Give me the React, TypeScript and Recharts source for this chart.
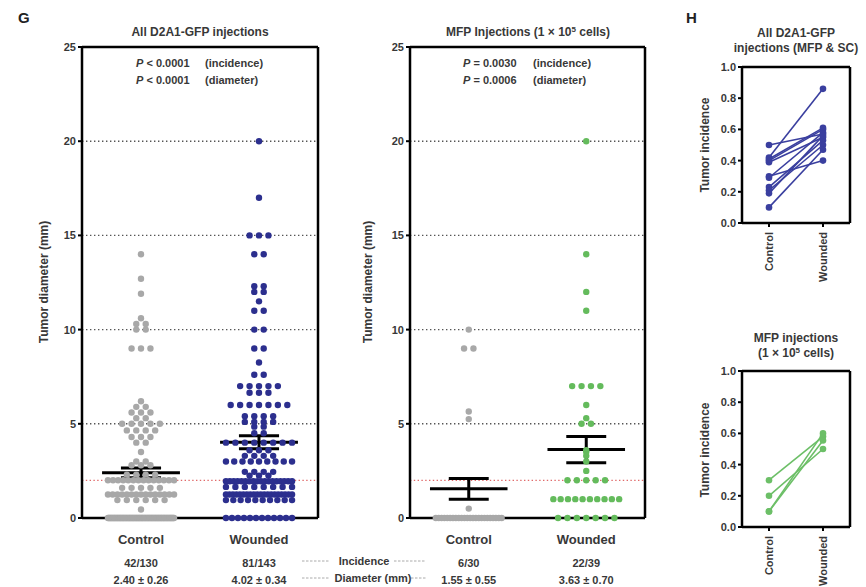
import React from 'react';
import { ScatterChart, Scatter, XAxis, YAxis, ReferenceLine } from 'recharts';

const FONT = '"Liberation Sans", Arial, sans-serif';
const TXT = '#383838';

const groups = ['Control', 'Wounded'];

// tumour diameter (mm) rows: [diameter, number of dots in that row]
const allControlRows: [number, number][] = [
  [14, 1], [12.7, 1], [11.9, 1], [10.6, 1], [10.3, 2], [10.0, 2], [9.0, 3],
  [6.2, 1], [5.9, 2], [5.6, 3], [5.3, 2], [5.0, 5], [4.65, 4], [4.3, 3], [4.0, 2],
  [3.5, 1], [3.0, 2], [2.8, 3], [2.3, 4], [2.0, 14], [1.6, 5], [1.25, 15], [0.95, 6],
  [0.45, 1], [0, 88],
];
const allWoundedRows: [number, number][] = [
  [20, 1], [17, 1], [15, 3], [14, 2], [12.3, 2], [12.0, 2], [11.5, 1], [11.0, 2],
  [10.0, 2], [9.0, 2], [8.25, 1], [7.6, 2], [7.0, 5], [6.65, 3], [6.0, 7], [5.4, 4],
  [5.1, 4], [4.85, 2], [4.5, 2], [4.0, 8], [3.6, 3], [3.3, 4], [3.0, 9], [2.45, 4],
  [2.25, 3], [1.95, 18], [1.65, 8], [1.25, 20], [0.95, 10], [0, 12],
];
const mfpControlRows: [number, number][] = [
  [10.0, 1], [9.0, 2], [5.65, 1], [5.25, 1], [0.5, 1], [0, 24],
];
const mfpWoundedRows: [number, number][] = [
  [20, 1], [14, 1], [12, 1], [11, 1], [7.0, 4], [6.0, 1], [5.3, 1], [5.0, 2],
  [3.6, 1], [3.5, 1], [3.3, 1], [3.0, 1], [2.5, 1], [2.0, 5], [1.0, 10], [0, 7],
];

const allIncidence = ['42/130', '81/143'];
const allDiameter = ['2.40 ± 0.26', '4.02 ± 0.34'];
const allMean = [2.40, 4.02];
const allSem = [0.26, 0.34];

const mfpIncidence = ['6/30', '22/39'];
const mfpDiameter = ['1.55 ± 0.55', '3.63 ± 0.70'];
const mfpMean = [1.55, 3.63];
const mfpSem = [0.55, 0.70];

// paired tumour incidence per experiment (panel H)
const allPairControl = [0.50, 0.42, 0.40, 0.39, 0.30, 0.29, 0.23, 0.21, 0.19, 0.10, 0.41];
const allPairWounded = [0.57, 0.86, 0.60, 0.55, 0.40, 0.58, 0.53, 0.50, 0.56, 0.47, 0.61];
const mfpPairControl = [0.30, 0.20, 0.10, 0.10];
const mfpPairWounded = [0.58, 0.50, 0.60, 0.555];

const diameterTicks = [0, 5, 10, 15, 20, 25];
const incidenceTicks = [0, 0.2, 0.4, 0.6, 0.8, 1.0];

const GRAY = '#a8a8a8';
const BLUE = '#2c2f8e';
const GREEN = '#64bb5c';

// lay each row out side by side, squeezing wide rows like the original swarm
const STEP = 0.08;
const MAXW = 0.56;
function swarm(rows: [number, number][], cat: number) {
  const out: { x: number; y: number }[] = [];
  rows.forEach(([v, n]) => {
    const s = n > 1 ? Math.min(STEP, MAXW / (n - 1)) : 0;
    for (let i = 0; i < n; i++) out.push({ x: cat + (i - (n - 1) / 2) * s, y: v });
  });
  return out;
}

const dot = (fill: string, r = 3.2) => (p: any) => <circle cx={p.cx} cy={p.cy} r={r} fill={fill} />;

const axisLine = { stroke: '#000', strokeWidth: 2.5 };
const tickStyle = { fontSize: 11, fontWeight: 'bold', fill: TXT, fontFamily: FONT };

function DotPanel({ left, width, marginLeft, marginRight, control, wounded, color, mean, sem, inc, dia }: any) {
  const renderTick = (props: any) => {
    const { x, y, payload } = props;
    const i = payload.value;
    return (
      <g fontFamily={FONT} fill={TXT} textAnchor="middle" fontWeight="bold">
        <text x={x} y={y + 24} fontSize={13}>{groups[i]}</text>
        <text x={x} y={y + 47} fontSize={11}>{inc[i]}</text>
        <text x={x} y={y + 64} fontSize={11}>{dia[i]}</text>
      </g>
    );
  };
  return (
    <div style={{ position: 'absolute', left, top: 0 }}>
      <ScatterChart width={width} height={587} margin={{ top: 47, right: marginRight, bottom: 9, left: marginLeft }}>
        <XAxis type="number" dataKey="x" domain={[-0.5, 1.5]} ticks={[0, 1]} height={60}
          axisLine={axisLine} tickLine={false} tickSize={0} tick={renderTick} interval={0} />
        <YAxis type="number" dataKey="y" domain={[0, 25]} ticks={diameterTicks} width={40}
          axisLine={axisLine} tickLine={{ stroke: '#000', strokeWidth: 2 }} tickSize={4} tickMargin={2} tick={tickStyle} />
        {[5, 10, 15, 20].map(v => (
          <ReferenceLine key={v} y={v} stroke="#555" strokeWidth={1.4} strokeDasharray="1.4 2.6" />
        ))}
        <ReferenceLine y={2} stroke="#e06a6a" strokeWidth={1.3} strokeDasharray="1.4 2.4" />
        <ReferenceLine y={25} stroke="#000" strokeWidth={2.5} />
        <ReferenceLine x={1.5} stroke="#000" strokeWidth={2.5} />
        <Scatter data={swarm(control, 0)} fill={GRAY} shape={dot(GRAY)} isAnimationActive={false} />
        <Scatter data={swarm(wounded, 1)} fill={color} shape={dot(color)} isAnimationActive={false} />
        {[0, 1].map(i => (
          <React.Fragment key={i}>
            <ReferenceLine segment={[{ x: i - 0.33, y: mean[i] }, { x: i + 0.33, y: mean[i] }]} stroke="#000" strokeWidth={3} />
            <ReferenceLine segment={[{ x: i, y: mean[i] - sem[i] }, { x: i, y: mean[i] + sem[i] }]} stroke="#000" strokeWidth={3} />
            <ReferenceLine segment={[{ x: i - 0.17, y: mean[i] - sem[i] }, { x: i + 0.17, y: mean[i] - sem[i] }]} stroke="#000" strokeWidth={3} />
            <ReferenceLine segment={[{ x: i - 0.17, y: mean[i] + sem[i] }, { x: i + 0.17, y: mean[i] + sem[i] }]} stroke="#000" strokeWidth={3} />
          </React.Fragment>
        ))}
      </ScatterChart>
    </div>
  );
}

function PairPanel({ top, height, marginTop, controls, woundeds, color }: any) {
  const renderTick = (props: any) => {
    const { x, y, payload } = props;
    return (
      <text x={x} y={y + 3} transform={`rotate(-90 ${x} ${y + 3})`} dy={4} textAnchor="end"
        fontSize={11} fontWeight="bold" fill={TXT} fontFamily={FONT}>{groups[payload.value]}</text>
    );
  };
  return (
    <div style={{ position: 'absolute', left: 650, top }}>
      <ScatterChart width={216} height={height} margin={{ top: marginTop, right: 16, bottom: height - marginTop - 156 - 60, left: 52 }}>
        <XAxis type="number" dataKey="x" domain={[-0.5, 1.5]} ticks={[0, 1]} height={60} interval={0}
          axisLine={axisLine} tickLine={{ stroke: '#000', strokeWidth: 2 }} tickSize={4} tick={renderTick} />
        <YAxis type="number" dataKey="y" domain={[0, 1]} ticks={incidenceTicks} width={40}
          axisLine={axisLine} tickLine={{ stroke: '#000', strokeWidth: 2 }} tickSize={4} tickMargin={2}
          tick={tickStyle} tickFormatter={(v: number) => v.toFixed(1)} />
        <ReferenceLine y={1} stroke="#000" strokeWidth={2.5} />
        <ReferenceLine x={1.5} stroke="#000" strokeWidth={2.5} />
        {controls.map((c: number, i: number) => (
          <Scatter key={i} data={[{ x: 0, y: c }, { x: 1, y: woundeds[i] }]} fill={color}
            line={{ stroke: color, strokeWidth: 1.6 }} shape={dot(color, 3.3)} isAnimationActive={false} />
        ))}
      </ScatterChart>
    </div>
  );
}

function Sup({ children }: any) {
  return <tspan dy={-4} fontSize={8}>{children}</tspan>;
}

export default function App() {
  return (
    <div style={{ position: 'absolute', left: 0, top: 0, width: 866, height: 587, background: '#fff', overflow: 'hidden' }}>
      <DotPanel left={0} width={330} marginLeft={42} marginRight={12} control={allControlRows} wounded={allWoundedRows}
        color={BLUE} mean={allMean} sem={allSem} inc={allIncidence} dia={allDiameter} />
      <DotPanel left={330} width={320} marginLeft={40} marginRight={5} control={mfpControlRows} wounded={mfpWoundedRows}
        color={GREEN} mean={mfpMean} sem={mfpSem} inc={mfpIncidence} dia={mfpDiameter} />
      <PairPanel top={0} height={300} marginTop={67} controls={allPairControl} woundeds={allPairWounded} color="#3a3f9f" />
      <PairPanel top={290} height={297} marginTop={81} controls={mfpPairControl} woundeds={mfpPairWounded} color="#6cbf67" />

      <svg width={866} height={587} style={{ position: 'absolute', left: 0, top: 0, pointerEvents: 'none' }}
        fontFamily={FONT} fill={TXT} fontWeight="bold">
        <text x={18} y={23} fontSize={15} fill="#222">G</text>
        <text x={686} y={23} fontSize={15} fill="#222">H</text>

        <text x={200} y={36} fontSize={12} textAnchor="middle">All D2A1-GFP injections</text>
        <text x={136} y={67} fontSize={11}><tspan fontStyle="italic">P</tspan> &lt; 0.0001</text>
        <text x={205} y={67} fontSize={11}>(incidence)</text>
        <text x={136} y={84} fontSize={11}><tspan fontStyle="italic">P</tspan> &lt; 0.0001</text>
        <text x={205} y={84} fontSize={11}>(diameter)</text>

        <text x={528} y={36} fontSize={12} textAnchor="middle">MFP Injections (1 × 10<Sup>5</Sup><tspan dy={4}> cells)</tspan></text>
        <text x={463} y={67} fontSize={11}><tspan fontStyle="italic">P</tspan> = 0.0030</text>
        <text x={533} y={67} fontSize={11}>(incidence)</text>
        <text x={463} y={84} fontSize={11}><tspan fontStyle="italic">P</tspan> = 0.0006</text>
        <text x={533} y={84} fontSize={11}>(diameter)</text>

        <text x={48} y={282} fontSize={12} textAnchor="middle" transform="rotate(-90 48 282)">Tumor diameter (mm)</text>
        <text x={372} y={282} fontSize={12} textAnchor="middle" transform="rotate(-90 372 282)">Tumor diameter (mm)</text>

        <g stroke="#aaa" strokeWidth={1} strokeDasharray="2.5 1.5">
          <line x1={302} y1={561} x2={330} y2={561} />
          <line x1={394} y1={561} x2={426} y2={561} />
          <line x1={302} y1={578} x2={330} y2={578} />
          <line x1={411} y1={578} x2={426} y2={578} />
        </g>
        <text x={364} y={565} fontSize={11} textAnchor="middle">Incidence</text>
        <text x={373} y={582} fontSize={11} textAnchor="middle">Diameter (mm)</text>

        <text x={796} y={37} fontSize={12} textAnchor="middle">All D2A1-GFP</text>
        <text x={796} y={52} fontSize={12} textAnchor="middle">injections (MFP &amp; SC)</text>
        <text x={709} y={145} fontSize={12} textAnchor="middle" transform="rotate(-90 709 145)">Tumor incidence</text>

        <text x={796} y={342} fontSize={12} textAnchor="middle">MFP injections</text>
        <text x={796} y={357} fontSize={12} textAnchor="middle">(1 × 10<Sup>5</Sup><tspan dy={4}> cells)</tspan></text>
        <text x={709} y={450} fontSize={12} textAnchor="middle" transform="rotate(-90 709 450)">Tumor incidence</text>
      </svg>
    </div>
  );
}
